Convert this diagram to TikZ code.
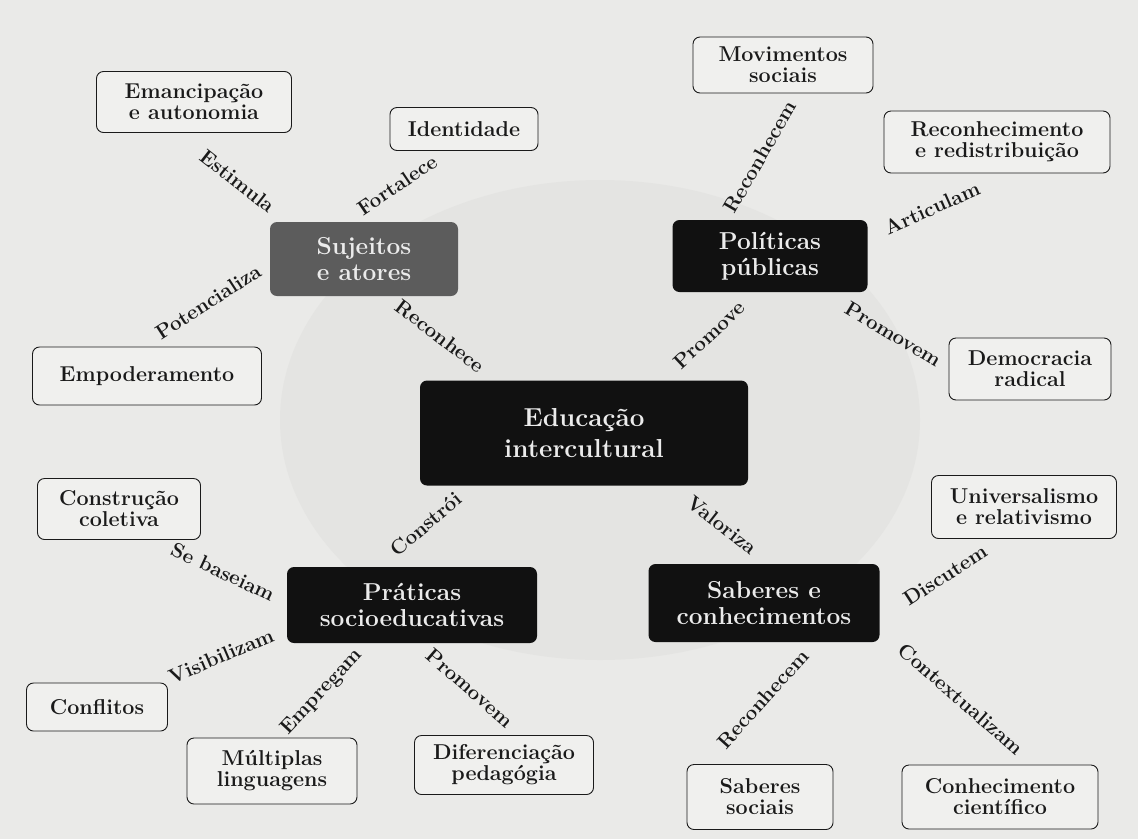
\documentclass[tikz,border=0pt]{standalone}
\usepackage{fontspec}
\definecolor{paper}{HTML}{EAEAE8}
\definecolor{paperdark}{HTML}{E4E4E2}
\definecolor{boxfill}{HTML}{F0F0EE}
\definecolor{ink}{HTML}{1A1A1A}
\definecolor{hubfill}{HTML}{111111}
\definecolor{subjfill}{HTML}{5C5C5C}
\tikzset{
  leaf/.style={draw=ink, line width=0.9pt, fill=boxfill, rounded corners=7pt,
    align=center, text=ink, inner sep=0pt,
    font=\bfseries\fontsize{21.5}{21}\selectfont},
  hub/.style={fill=hubfill, rounded corners=7pt, align=center,
    text=white!92!black, inner sep=0pt,
    font=\bfseries\fontsize{24.5}{26}\selectfont},
  core/.style={hub, font=\bfseries\fontsize{26}{31}\selectfont},
  lbl/.style={text=ink, inner sep=0pt,
    font=\bfseries\fontsize{20.5}{20}\selectfont}
}
\begin{document}
\begin{tikzpicture}[x=1pt,y=-1pt]
\fill[paper] (0,0) rectangle (1138,839);
\useasboundingbox (0,0) rectangle (1138,839);
\fill[paperdark] (600,420) ellipse [x radius=320, y radius=240];

% central
\node[core, minimum width=328, minimum height=105] (edu) at (584,433) {Educação\\intercultural};

% hubs
\node[hub, fill=subjfill, minimum width=188, minimum height=74] (suj) at (364,259) {Sujeitos\\e atores};
\node[hub, minimum width=195, minimum height=72] (pol) at (770,256) {Políticas\\públicas};
\node[hub, minimum width=250, minimum height=76] (prat) at (412,605) {Práticas\\socioeducativas};
\node[hub, minimum width=231, minimum height=78] (sab) at (764,603) {Saberes e\\conhecimentos};

% leaves
\node[leaf, minimum width=195, minimum height=61] (emanc) at (194,102) {Emancipação\\e autonomia};
\node[leaf, minimum width=148, minimum height=43] (ident) at (464,129) {Identidade};
\node[leaf, minimum width=229, minimum height=58] (empod) at (147,376) {Empoderamento};
\node[leaf, minimum width=180, minimum height=56] (mov) at (783,65) {Movimentos\\sociais};
\node[leaf, minimum width=226, minimum height=62] (recred) at (997,142) {Reconhecimento\\e redistribuição};
\node[leaf, minimum width=162, minimum height=62] (demo) at (1030,369) {Democracia\\radical};
\node[leaf, minimum width=163, minimum height=61] (constr) at (119,509) {Construção\\coletiva};
\node[leaf, minimum width=141, minimum height=48] (confl) at (97,707) {Conflitos};
\node[leaf, minimum width=170, minimum height=66] (mult) at (272,771) {Múltiplas\\linguagens};
\node[leaf, minimum width=179, minimum height=59] (difer) at (504,765) {Diferenciação\\pedagógia};
\node[leaf, minimum width=185, minimum height=63] (univ) at (1024,507) {Universalismo\\e relativismo};
\node[leaf, minimum width=146, minimum height=65] (sabsoc) at (760,797) {Saberes\\sociais};
\node[leaf, minimum width=196, minimum height=64] (cient) at (1000,797) {Conhecimento\\científico};

% relation labels
\node[lbl, rotate=-38] (l1) at (238,181) {Estimula};
\node[lbl, rotate=34] (l2) at (397,185) {Fortalece};
\node[lbl, rotate=33] (l3) at (208,302) {Potencializa};
\node[lbl, rotate=-37] (l4) at (440,336) {Reconhece};
\node[lbl, rotate=60] (l5) at (760,157) {Reconhecem};
\node[lbl, rotate=24] (l6) at (932,208) {Articulam};
\node[lbl, rotate=43] (l7) at (709,335) {Promove};
\node[lbl, rotate=-31] (l8) at (893,334) {Promovem};
\node[lbl, rotate=40] (l9) at (426,524) {Constrói};
\node[lbl, rotate=-38] (l10) at (722,525) {Valoriza};
\node[lbl, rotate=-25] (l11) at (223,572) {Se baseiam};
\node[lbl, rotate=23] (l12) at (221,656) {Visibilizam};
\node[lbl, rotate=47] (l13) at (322,692) {Empregam};
\node[lbl, rotate=-41] (l14) at (470,688) {Promovem};
\node[lbl, rotate=33] (l15) at (945,575) {Discutem};
\node[lbl, rotate=48] (l16) at (763,699) {Reconhecem};
\node[lbl, rotate=-41] (l17) at (961,699) {Contextualizam};
\end{tikzpicture}
\end{document}
